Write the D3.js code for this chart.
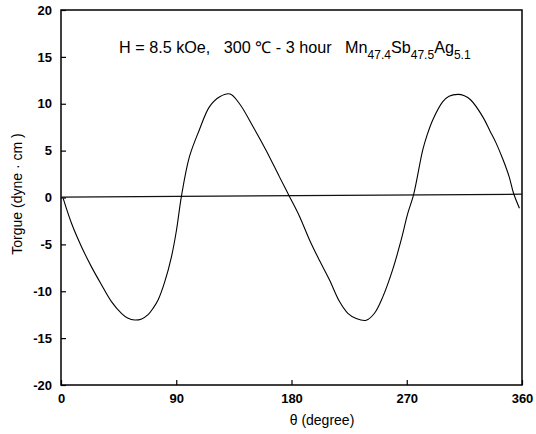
<!DOCTYPE html>
<html><head><meta charset="utf-8">
<script src="https://cdn.jsdelivr.net/npm/d3@7"></script>
<style>
html,body{margin:0;padding:0;background:#fff;}
svg{display:block;font-family:"Liberation Sans",Arial,sans-serif;}
text{white-space:pre;}
</style></head>
<body>
<script>
// Data
const thetaDeg = [1.7, 8.2, 16, 23.8, 31.6, 39.4, 47.2, 52, 57.6, 63, 68, 72, 75.9, 81, 86.3, 90.2, 94, 100.3, 108, 116, 124, 132, 139.4, 150, 160, 170.6, 178.2, 186.2, 194, 201.8, 209.7, 217.5, 224, 230.5, 238.3, 244.8, 251.3, 259, 265.7, 270.8, 275.3, 282.5, 286, 290.3, 298, 303, 310, 315, 320, 329.4, 335, 339.8, 345, 350, 353.4, 358];
const torque   = [-0.1, -2.75, -5.25, -7.4, -9.3, -11.1, -12.35, -12.85, -13.07, -12.95, -12.5, -11.8, -10.9, -9.0, -6.3, -3.47, 0.1, 4.35, 7.2, 9.7, 10.75, 11.04, 10.0, 7.55, 5.07, 2.2, 0.16, -2.0, -4.5, -6.7, -8.8, -11.1, -12.35, -12.9, -13.1, -12.35, -10.6, -7.7, -4.5, -1.7, 0.27, 5.07, 6.7, 8.27, 10.2, 10.8, 11.0, 10.85, 10.4, 8.6, 7.1, 5.8, 4.1, 2.2, 0.45, -1.15];
const baseTheta = [0, 360];
const baseTorque = [0.05, 0.35];
const xTicks = [0, 90, 180, 270, 360];
const yTicks = [-20, -15, -10, -5, 0, 5, 10, 15, 20];

const W = 536, H = 434;
const m = {left: 61, right: 14, top: 10, bottom: 49};
const svg = d3.select("body").append("svg").attr("width", W).attr("height", H);

const x = d3.scaleLinear().domain([0, 360]).range([m.left, W - m.right]);
const y = d3.scaleLinear().domain([-20, 20]).range([H - m.bottom, m.top]);

// frame
svg.append("rect")
  .attr("x", x(0)).attr("y", y(20))
  .attr("width", x(360) - x(0)).attr("height", y(-20) - y(20))
  .attr("fill", "none").attr("stroke", "#000").attr("stroke-width", 1.5);

const fmt = d => String(d);

// x axis (ticks inward)
const xAxis = d3.axisBottom(x).tickValues(xTicks).tickFormat(fmt).tickSizeInner(-5).tickSizeOuter(0).tickPadding(9);
const gx = svg.append("g").attr("transform", `translate(0,${y(-20)})`).call(xAxis);
gx.select(".domain").remove();
gx.selectAll(".tick line").attr("stroke", "#000").attr("stroke-width", 1.2);
gx.selectAll("text").attr("font-size", 13).attr("font-weight", "bold").attr("fill", "#000")
  .attr("font-family", "Liberation Sans, Arial, sans-serif");

const yAxis = d3.axisLeft(y).tickValues(yTicks).tickFormat(fmt).tickSizeInner(-5).tickSizeOuter(0).tickPadding(9);
const gy = svg.append("g").attr("transform", `translate(${x(0)},0)`).call(yAxis);
gy.select(".domain").remove();
gy.selectAll(".tick line").attr("stroke", "#000").attr("stroke-width", 1.2);
gy.selectAll("text").attr("font-size", 13).attr("font-weight", "bold").attr("fill", "#000")
  .attr("font-family", "Liberation Sans, Arial, sans-serif");

// baseline
const base = baseTheta.map((t, i) => [t, baseTorque[i]]);
svg.append("path").datum(base)
  .attr("d", d3.line().x(d => x(d[0])).y(d => y(d[1])))
  .attr("fill", "none").attr("stroke", "#111").attr("stroke-width", 1.2);

// curve
const pts = thetaDeg.map((t, i) => [t, torque[i]]);
svg.append("path").datum(pts)
  .attr("d", d3.line().x(d => x(d[0])).y(d => y(d[1])).curve(d3.curveCatmullRom.alpha(0.5)))
  .attr("fill", "none").attr("stroke", "#000").attr("stroke-width", 1.1);

// axis titles
svg.append("text").attr("x", 322).attr("y", 425)
  .attr("text-anchor", "middle").attr("font-size", 14).attr("fill", "#000")
  .text("θ (degree)");
svg.append("text").attr("transform", `translate(22,${194}) rotate(-90)`)
  .attr("text-anchor", "middle").attr("font-size", 14).attr("fill", "#000")
  .text("Torgue (dyne · cm )");

// annotation
const ann = svg.append("text").attr("x", 119).attr("y", 53).attr("font-size", 16.2).attr("fill", "#000")
  .attr("xml:space", "preserve");
ann.append("tspan").text("H = 8.5 kOe,   300 ℃ - 3 hour   Mn");
ann.append("tspan").attr("font-size", 12).attr("dy", 6).text("47.4");
ann.append("tspan").attr("dy", -6).text("Sb");
ann.append("tspan").attr("font-size", 12).attr("dy", 6).text("47.5");
ann.append("tspan").attr("dy", -6).text("Ag");
ann.append("tspan").attr("font-size", 12).attr("dy", 6).text("5.1");
</script>
</body></html>
